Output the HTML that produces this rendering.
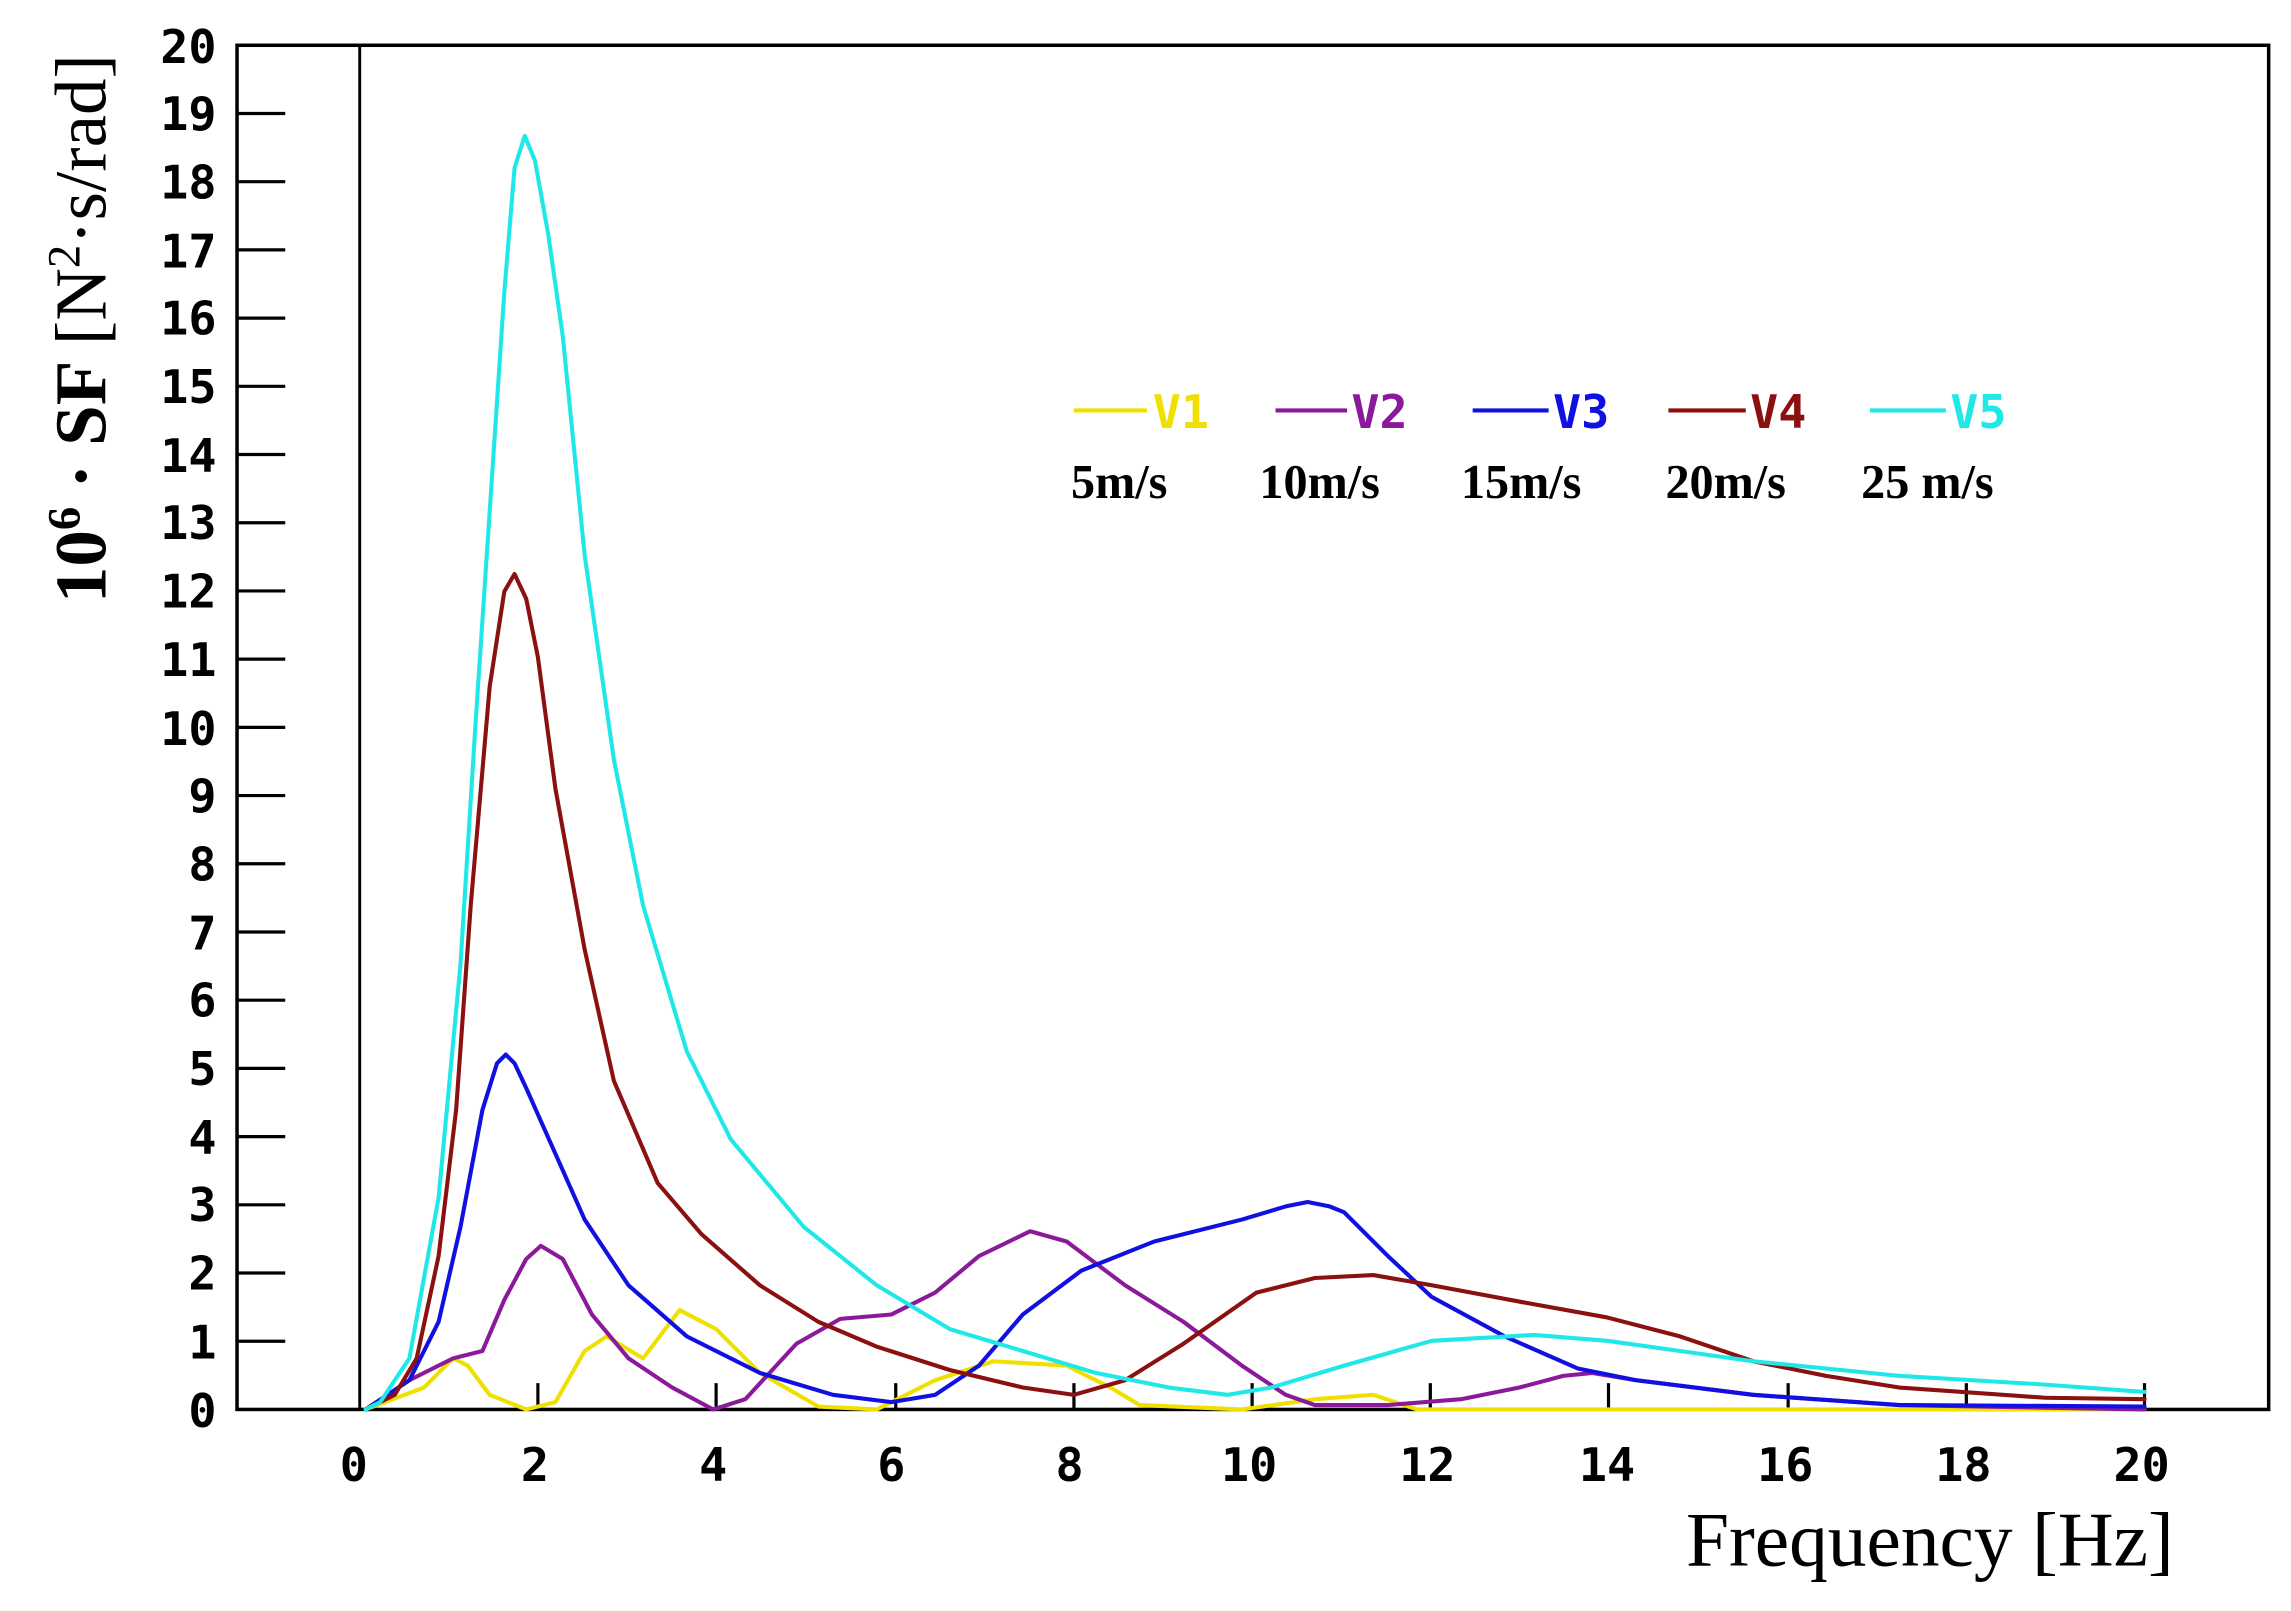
<!DOCTYPE html>
<html><head><meta charset="utf-8"><style>
html,body{margin:0;padding:0;background:#fff;}
svg{display:block;}
.t{font-family:"DejaVu Sans Mono","Liberation Mono",monospace;font-weight:bold;font-size:32px;fill:#000;}
.c{fill:none;stroke-width:2.8;stroke-linejoin:round;stroke-linecap:round;}
</style></head><body>
<svg width="2291" height="1611" viewBox="0 0 1568 1103" xmlns="http://www.w3.org/2000/svg">
<rect x="0" y="0" width="1568" height="1103" fill="#fff"/>
<rect x="162" y="31" width="1391" height="934" fill="none" stroke="#000" stroke-width="2.4"/>
<line x1="246" y1="31" x2="246" y2="965" stroke="#000" stroke-width="2"/>
<g stroke="#000" stroke-width="2.2">
<line x1="162" y1="918.3" x2="195" y2="918.3"/><line x1="162" y1="871.6" x2="195" y2="871.6"/><line x1="162" y1="824.9" x2="195" y2="824.9"/><line x1="162" y1="778.2" x2="195" y2="778.2"/><line x1="162" y1="731.5" x2="195" y2="731.5"/><line x1="162" y1="684.8" x2="195" y2="684.8"/><line x1="162" y1="638.1" x2="195" y2="638.1"/><line x1="162" y1="591.4" x2="195" y2="591.4"/><line x1="162" y1="544.7" x2="195" y2="544.7"/><line x1="162" y1="498" x2="195" y2="498"/><line x1="162" y1="451.3" x2="195" y2="451.3"/><line x1="162" y1="404.6" x2="195" y2="404.6"/><line x1="162" y1="357.9" x2="195" y2="357.9"/><line x1="162" y1="311.2" x2="195" y2="311.2"/><line x1="162" y1="264.5" x2="195" y2="264.5"/><line x1="162" y1="217.8" x2="195" y2="217.8"/><line x1="162" y1="171.1" x2="195" y2="171.1"/><line x1="162" y1="124.4" x2="195" y2="124.4"/><line x1="162" y1="77.7" x2="195" y2="77.7"/>
<line x1="368" y1="965" x2="368" y2="947"/><line x1="490" y1="965" x2="490" y2="947"/><line x1="613" y1="965" x2="613" y2="947"/><line x1="735" y1="965" x2="735" y2="947"/><line x1="857" y1="965" x2="857" y2="947"/><line x1="979" y1="965" x2="979" y2="947"/><line x1="1101" y1="965" x2="1101" y2="947"/><line x1="1224" y1="965" x2="1224" y2="947"/><line x1="1346" y1="965" x2="1346" y2="947"/><line x1="1468" y1="965" x2="1468" y2="947"/>
</g>
<g class="t" text-anchor="end">
<text x="148" y="977">0</text><text x="148" y="930">1</text><text x="148" y="883">2</text><text x="148" y="836">3</text><text x="148" y="790">4</text><text x="148" y="743">5</text><text x="148" y="696">6</text><text x="148" y="650">7</text><text x="148" y="603">8</text><text x="148" y="556">9</text><text x="148" y="510">10</text><text x="148" y="463">11</text><text x="148" y="416">12</text><text x="148" y="369">13</text><text x="148" y="323">14</text><text x="148" y="276">15</text><text x="148" y="229">16</text><text x="148" y="183">17</text><text x="148" y="136">18</text><text x="148" y="89">19</text><text x="148" y="43">20</text>
</g>
<g class="t" text-anchor="middle">
<text x="242" y="1014">0</text><text x="366" y="1014">2</text><text x="488" y="1014">4</text><text x="610" y="1014">6</text><text x="732" y="1014">8</text><text x="855" y="1014">10</text><text x="977" y="1014">12</text><text x="1100" y="1014">14</text><text x="1222" y="1014">16</text><text x="1344" y="1014">18</text><text x="1466" y="1014">20</text>
</g>
<text x="1488" y="1072" text-anchor="end" font-family="Liberation Serif,serif" font-size="53">Frequency [Hz]</text>
<text transform="translate(72,225) rotate(-90)" text-anchor="middle" font-family="Liberation Serif,serif" font-size="50"><tspan font-weight="bold">10<tspan dy="-18" font-size="32">6</tspan><tspan dy="18"> · SF </tspan></tspan>[N<tspan dy="-18" font-size="32">2</tspan><tspan dy="18">·s/rad]</tspan></text>
<g stroke-width="2.8">
<line x1="735" y1="281" x2="785" y2="281" stroke="#f0e000"/><line x1="873" y1="281" x2="922" y2="281" stroke="#8a1a9a"/><line x1="1008" y1="281" x2="1060" y2="281" stroke="#1010e0"/><line x1="1142" y1="281" x2="1195" y2="281" stroke="#8b1010"/><line x1="1280" y1="281" x2="1332" y2="281" stroke="#20e8e8"/>
</g>
<g class="t">
<text x="789" y="293" style="fill:#f0e000">V1</text><text x="925" y="293" style="fill:#8a1a9a">V2</text><text x="1063" y="293" style="fill:#1010e0">V3</text><text x="1198" y="293" style="fill:#8b1010">V4</text><text x="1335" y="293" style="fill:#20e8e8">V5</text>
</g>
<g font-family="Liberation Serif,serif" font-weight="bold" font-size="33">
<text x="733" y="341">5m/s</text><text x="862" y="341">10m/s</text><text x="1000" y="341">15m/s</text><text x="1140" y="341">20m/s</text><text x="1274" y="341">25 m/s</text>
</g>
<polyline class="c" stroke="#f0e000" points="250,965 290,950 310,930 320,935 335,955 360,965 380,960 400,925 415,915 440,930 465,897 490,910 520,940 560,963 600,965 640,945 680,932 730,935 760,950 780,962 850,965 900,958 940,955 970,965 1468,965"/>
<polyline class="c" stroke="#8a1a9a" points="250,965 280,945 310,930 330,925 345,890 360,862 370,853 385,862 405,900 430,930 460,950 488,965 510,958 545,920 575,903 610,900 640,885 670,860 705,843 730,850 770,880 810,905 850,935 880,955 900,962 950,962 1000,958 1040,950 1070,942 1090,940 1120,945 1200,955 1300,962 1468,965"/>
<polyline class="c" stroke="#1010e0" points="250,965 280,945 300,905 315,840 330,760 340,728 346,722 352,728 360,745 380,790 400,835 430,880 470,915 520,940 570,955 610,960 640,955 670,935 700,900 740,870 790,850 850,835 880,826 895,823 910,826 920,830 950,860 980,888 1030,915 1080,937 1120,945 1200,955 1300,962 1468,963"/>
<polyline class="c" stroke="#8b1010" points="250,965 270,955 285,930 300,860 312,760 322,620 335,470 345,405 352,393 360,410 368,450 380,540 400,650 420,740 450,810 480,845 520,880 560,905 600,922 650,938 700,950 735,955 770,945 810,920 860,885 900,875 940,873 980,880 1050,893 1100,902 1150,915 1200,932 1250,942 1300,950 1400,957 1468,958"/>
<polyline class="c" stroke="#20e8e8" points="250,965 260,960 280,930 300,820 315,660 325,500 335,350 345,200 352,115 359,93 366,110 375,160 385,230 400,380 420,520 440,620 470,720 500,780 550,840 600,880 650,910 700,925 750,940 800,950 840,955 870,950 920,935 980,918 1050,914 1100,918 1150,925 1200,932 1300,942 1400,948 1468,953"/>
</svg>
</body></html>
